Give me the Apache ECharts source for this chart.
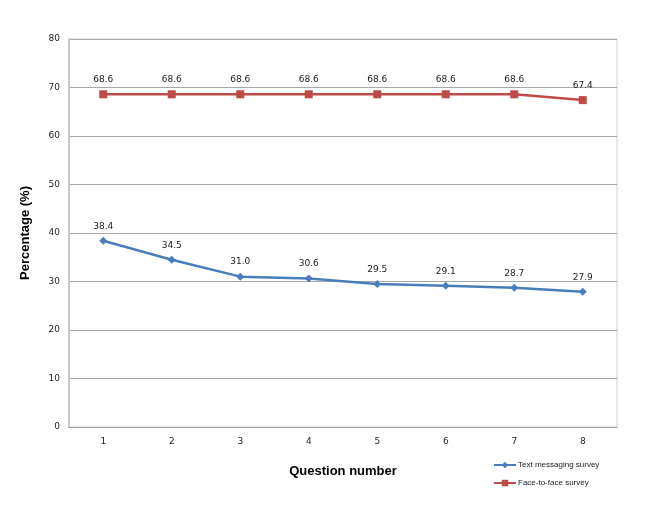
<!DOCTYPE html>
<html><head><meta charset="utf-8">
<script src="https://cdn.jsdelivr.net/npm/echarts@6/dist/echarts.min.js"></script>
<style>html,body{margin:0;padding:0;background:#fff}#c{width:662px;height:510px}</style>
</head><body><div id="c"></div>
<script>
const categories = ['1','2','3','4','5','6','7','8'];
const textSurvey = [38.4, 34.5, 31.0, 30.6, 29.5, 29.1, 28.7, 27.9];
const faceSurvey = [68.6, 68.6, 68.6, 68.6, 68.6, 68.6, 68.6, 67.4];
const seriesNames = ['Text messaging survey', 'Face-to-face survey'];

const chart = echarts.init(document.getElementById('c'));
const lbl = {show:true, position:'top', distance:6, fontSize:9, color:'#222', fontFamily:'DejaVu Sans', formatter: p => p.value.toFixed(1)};
chart.setOption({
  animation:false,
  grid:{left:69, right:45, top:39, bottom:83, show:true, borderColor:'#d0d0d0', borderWidth:1},
  legend:{orient:'vertical', left:488, top:456, itemGap:10, itemWidth:22, itemHeight:8,
    textStyle:{fontSize:8, color:'#222', fontFamily:'Liberation Sans, Arial', padding:[0,0,0,-3]},
    data:seriesNames},
  xAxis:{type:'category', data:categories, boundaryGap:true,
    name:'Question number', nameLocation:'middle', nameGap:38,
    nameTextStyle:{fontSize:13, fontWeight:'bold', color:'#000', fontFamily:'Arial, Liberation Sans'},
    axisLine:{lineStyle:{color:'#a0a0a0'}}, axisTick:{show:false},
    axisLabel:{fontSize:9, color:'#222', margin:10, fontFamily:'DejaVu Sans'}},
  yAxis:{type:'value', min:0, max:80, interval:10,
    name:'Percentage (%)', nameLocation:'middle', nameGap:37,
    nameTextStyle:{fontSize:13, fontWeight:'bold', color:'#000', fontFamily:'Arial, Liberation Sans'},
    axisLine:{show:true, lineStyle:{color:'#c8c8c8', width:2}}, axisTick:{show:false},
    axisLabel:{fontSize:9, color:'#222', margin:9, fontFamily:'DejaVu Sans'},
    splitLine:{lineStyle:{color:'#a8a8a8'}}},
  series:[
    {name:seriesNames[0], type:'line', data:textSurvey, color:'#4a7ebb', symbol:'diamond', symbolSize:8,
     lineStyle:{width:2.5}, label:lbl},
    {name:seriesNames[1], type:'line', data:faceSurvey, color:'#be4b48', symbol:'rect', symbolSize:8,
     lineStyle:{width:2.5}, label:lbl}
  ]
});
</script></body></html>
